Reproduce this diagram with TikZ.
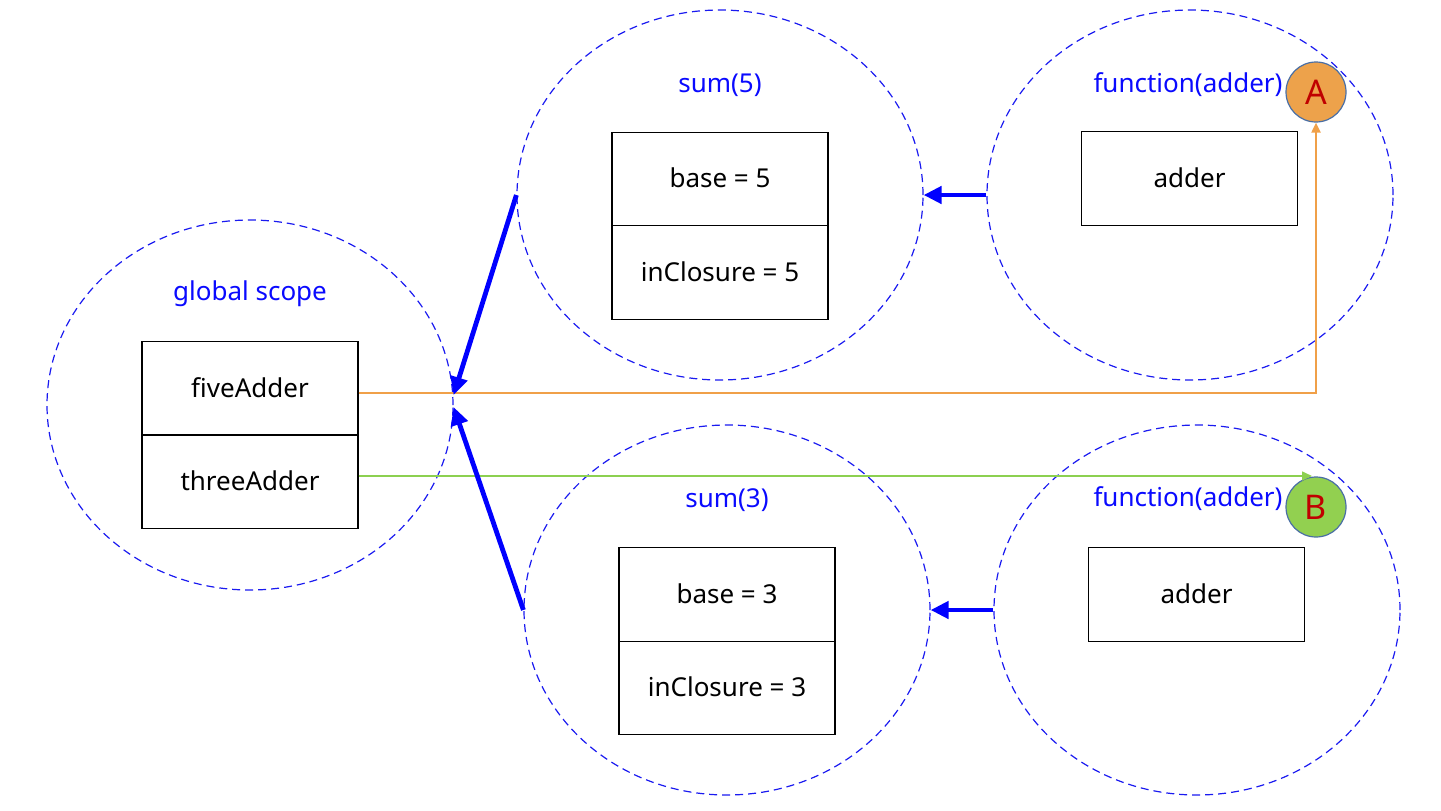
\documentclass[tikz,border=0pt]{standalone}
\usepackage{fontspec}
\setmainfont{Noto Sans}
\usetikzlibrary{shapes.geometric,arrows.meta,positioning}
\definecolor{scopeblue}{HTML}{1A1AF0}
\definecolor{lblblue}{HTML}{0A0AFF}
\definecolor{orangeA}{HTML}{EDA24B}
\definecolor{greenB}{HTML}{92D050}
\definecolor{rimblue}{HTML}{4A6FA5}
\definecolor{redtxt}{HTML}{C00000}
\definecolor{orline}{HTML}{F0A048}
\definecolor{grline}{HTML}{8CD050}
\tikzset{
  scope/.style={ellipse,draw=scopeblue,dash pattern=on 4pt off 2.5pt,line width=0.6pt,minimum width=203pt,minimum height=185pt,inner sep=0pt},
  lbl/.style={text=lblblue,font=\fontsize{13}{15}\selectfont},
  cell/.style={draw=black,line width=0.6pt,minimum width=108pt,minimum height=46.75pt,inner sep=0pt,font=\fontsize{13}{15}\selectfont},
  marker/.style={circle,draw=rimblue,line width=0.6pt,minimum size=30pt,inner sep=0pt,text=redtxt,font=\fontsize{17}{18}\selectfont},
  bluearrow/.style={draw=blue,line width=2.4pt,-{Triangle[length=9pt,width=8.5pt]}},
}
\begin{document}
\begin{tikzpicture}[x=0.5pt,y=-0.5pt]
\useasboundingbox (0,0) rectangle (1441,810);
% scopes
\node[scope] (global) at (250,405) {};
\node[scope] (sumfive) at (720,195) {};
\node[scope] (funtop) at (1190,195) {};
\node[scope] (sumthree) at (727,610) {};
\node[scope] (funbot) at (1197,610) {};
% labels
\node[lbl] (lglobal) at (250,294) {global scope};
\node[lbl] (lsumfive) at (720,85) {sum(5)};
\node[lbl] (lfuntop) at (1188,85) {function(adder)};
\node[lbl] (lsumthree) at (727,500) {sum(3)};
\node[lbl] (lfunbot) at (1188,499) {function(adder)};
% boxes
\node[cell] (five) at (250,388.5) {\raisebox{1pt}{fiveAdder}};
\node[cell] (three) at (250,481.5) {\raisebox{1pt}{threeAdder}};
\node[cell] (basefive) at (720,179) {\raisebox{1pt}{base = 5}};
\node[cell] (infive) at (720,272.5) {\raisebox{1pt}{inClosure = 5}};
\node[cell] (addtop) at (1189.5,178.5) {\raisebox{1pt}{adder}};
\node[cell] (basethree) at (727,594.5) {\raisebox{1pt}{base = 3}};
\node[cell] (inthree) at (727,688) {\raisebox{1pt}{inClosure = 3}};
\node[cell] (addbot) at (1196.5,594.5) {\raisebox{1pt}{adder}};
% markers
\node[marker,fill=orangeA] (A) at (1316,92) {A};
\node[marker,fill=greenB] (B) at (1316,507) {B};
% connectors
\coordinate (ornbend) at (1316,393);
\draw[orline,line width=1pt,-{Triangle[length=5pt,width=4.5pt]}] (five.east |- 0,393) -- (ornbend) -- (A.south);
\coordinate (grend) at (1312,476);
\draw[grline,line width=0.8pt,-{Triangle[length=5pt,width=4.5pt]}] (three.east |- 0,476) -- (grend);
\draw[bluearrow] (sumfive.west) -- ([yshift=5pt]global.east);
\draw[bluearrow] (sumthree.west) -- ([yshift=-1pt]global.east);
\draw[bluearrow] (funtop.west) -- (sumfive.east);
\draw[bluearrow] (funbot.west) -- (sumthree.east);
\end{tikzpicture}
\end{document}
